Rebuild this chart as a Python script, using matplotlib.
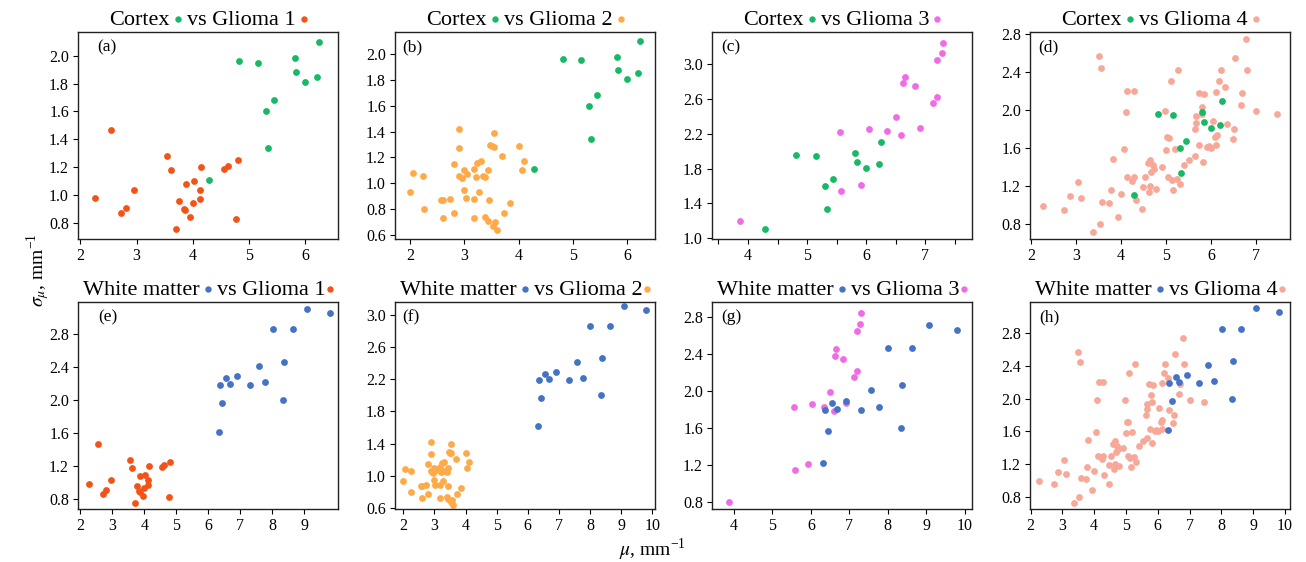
import matplotlib
matplotlib.use('Agg')
import matplotlib.pyplot as plt
from matplotlib.ticker import FixedLocator, MultipleLocator, FormatStrFormatter
from matplotlib.lines import Line2D
from matplotlib import transforms

plt.rcParams['font.family'] = ['Liberation Serif', 'DejaVu Serif']
plt.rcParams['mathtext.fontset'] = 'stix'

# Dados: mu (mm^-1) e sigma_mu (mm^-1) de cada tecido
ctx_mu = [4.29, 4.82, 5.15, 5.30, 5.34, 5.44, 5.81, 5.84, 6.00, 6.21, 6.25]
ctx_sig = [1.11, 1.96, 1.95, 1.60, 1.34, 1.68, 1.98, 1.88, 1.81, 1.85, 2.10]

wm_mu = [6.32, 6.36, 6.44, 6.56, 6.68, 6.91, 7.31, 7.57, 7.76, 8.01, 8.34, 8.37, 8.63, 9.08, 9.80]
wm_sig = [1.62, 2.19, 1.97, 2.27, 2.20, 2.29, 2.19, 2.41, 2.22, 2.86, 2.00, 2.46, 2.86, 3.11, 3.06]

g1_mu = [2.27, 2.55, 2.72, 2.82, 2.96, 3.54, 3.61, 3.70, 3.76, 3.84, 3.87, 3.88, 3.95, 4.00,
         4.03, 4.13, 4.13, 4.14, 4.56, 4.63, 4.80, 4.77]
g1_sig = [0.98, 1.47, 0.87, 0.91, 1.04, 1.28, 1.18, 0.76, 0.96, 0.90, 0.89, 1.08, 0.84, 0.94,
          1.10, 0.97, 1.04, 1.20, 1.19, 1.21, 1.25, 0.83]

g2_mu = [2.00, 2.05, 2.23, 2.26, 2.57, 2.60, 2.60, 2.74, 2.80, 2.80, 2.90, 2.90, 2.90, 2.95,
         3.00, 3.00, 3.03, 3.04, 3.17, 3.17, 3.17, 3.21, 3.24, 3.27, 3.31, 3.34, 3.39, 3.39,
         3.43, 3.44, 3.45, 3.47, 3.51, 3.52, 3.54, 3.54, 3.56, 3.60, 3.70, 3.73, 3.84, 4.00,
         4.06, 4.11]
g2_sig = [0.93, 1.08, 1.06, 0.80, 0.87, 0.87, 0.73, 0.88, 1.15, 0.77, 1.42, 1.27, 1.06, 1.04,
          1.10, 0.95, 0.89, 1.07, 0.88, 1.11, 0.73, 1.05, 1.16, 0.93, 1.17, 1.06, 1.05, 0.74,
          0.71, 1.10, 0.87, 1.30, 1.29, 0.67, 1.39, 1.28, 0.70, 0.64, 1.21, 0.77, 0.85, 1.29,
          1.10, 1.17]

g3_mu = [3.86, 5.55, 5.58, 5.92, 6.04, 6.35, 6.50, 6.59, 6.62, 6.65, 6.83, 6.91, 7.13, 7.19,
         7.20, 7.28, 7.30]
g3_sig = [1.20, 2.22, 1.54, 1.61, 2.26, 2.23, 2.39, 2.18, 2.78, 2.85, 2.75, 2.27, 2.55, 2.62,
          3.05, 3.13, 3.24]

g4_mu = [2.25, 2.73, 2.85, 3.05, 3.10, 3.38, 3.52, 3.50, 3.55, 3.58,
         3.74, 3.78, 3.82, 3.94, 3.99, 4.06, 4.10, 4.14, 4.12, 4.24,
         4.29, 4.29, 4.32, 4.46, 4.48, 4.53, 4.59, 4.64, 4.65, 4.63,
         4.67, 4.72, 4.74, 4.77, 4.92, 4.98, 5.00, 5.03, 5.07, 5.05,
         5.11, 5.13, 5.15, 5.19, 5.24, 5.27, 5.31, 5.41, 5.52, 5.65,
         5.74, 5.83, 5.64, 5.67, 5.66, 5.73, 5.84, 5.80, 5.81, 5.91,
         5.95, 6.00, 6.05, 6.12, 6.09, 6.13, 6.12, 6.19, 6.22, 6.31,
         6.35, 6.49, 6.52, 6.53, 6.66, 6.70, 6.79, 6.81, 7.00, 7.46]
g4_sig = [0.99, 0.95, 1.10, 1.25, 1.08, 0.72, 0.80, 2.57, 2.45, 1.03,
          1.02, 1.16, 1.49, 0.88, 1.12, 1.59, 1.98, 2.20, 1.30, 1.26,
          1.30, 2.20, 1.06, 0.96, 1.19, 1.30, 1.45, 1.48, 1.20, 1.14,
          1.35, 1.42, 1.38, 1.17, 1.40, 1.99, 1.58, 1.72, 1.71, 1.30,
          2.31, 1.27, 1.16, 1.59, 1.28, 2.42, 1.22, 1.42, 1.48, 1.52,
          1.63, 1.46, 1.80, 1.87, 1.94, 2.18, 2.17, 2.04, 1.96, 1.61,
          1.62, 1.60, 1.89, 1.63, 1.72, 1.74, 2.19, 2.31, 2.42, 2.25,
          1.86, 1.70, 1.80, 2.55, 2.06, 2.18, 2.75, 2.43, 1.99, 1.96]

# Cores
cor_ctx = '#17b866'
cor_wm = '#4472c4'
cor_glioma = ['#f25418', '#ffaa47', '#f06ce6', '#f7a898']

gliomas = [(g1_mu, g1_sig), (g2_mu, g2_sig), (g3_mu, g3_sig), (g4_mu, g4_sig)]

# Eixos de cada painel: (xlim, ylim, xticks, yticks, deslocamento do rotulo)
limites = [
    ((1.96, 6.58), (0.685, 2.17), [2, 3, 4, 5, 6], [0.8, 1.0, 1.2, 1.4, 1.6, 1.8, 2.0], 19),
    ((1.72, 6.52), (0.57, 2.17), [2, 3, 4, 5, 6], [0.6, 0.8, 1.0, 1.2, 1.4, 1.6, 1.8, 2.0], 7),
    ((3.39, 7.79), (0.99, 3.37), [4, 5, 6, 7], [1.0, 1.4, 1.8, 2.2, 2.6, 3.0], 9),
    ((1.97, 7.76), (0.645, 2.825), [2, 3, 4, 5, 6, 7], [0.8, 1.2, 1.6, 2.0, 2.4, 2.8], 8),
    ((1.93, 10.05), (0.683, 3.19), [2, 3, 4, 5, 6, 7, 8, 9], [0.8, 1.2, 1.6, 2.0, 2.4, 2.8], 20),
    ((1.73, 10.09), (0.588, 3.16), [2, 3, 4, 5, 6, 7, 8, 9, 10], [0.6, 1.0, 1.4, 1.8, 2.2, 2.6, 3.0], 7),
    ((3.43, 10.19), (0.72, 2.963), [4, 5, 6, 7, 8, 9, 10], [0.8, 1.2, 1.6, 2.0, 2.4, 2.8], 9),
    ((1.98, 10.16), (0.648, 3.186), [2, 3, 4, 5, 6, 7, 8, 9, 10], [0.8, 1.2, 1.6, 2.0, 2.4, 2.8], 9),
]
letras = ['(a)', '(b)', '(c)', '(d)', '(e)', '(f)', '(g)', '(h)']
# o painel (g) tem a escala de sigma deslocada
desloc_g = 0.4

fig = plt.figure(figsize=(13.06, 5.62), dpi=100)
W, H = 1306, 562
esquerdas = [78, 395, 712, 1030]
topos = [32, 302]
larg, alt = 260, 207

eixos = []
for i in range(8):
    lin, col = divmod(i, 4)
    ax = fig.add_axes([esquerdas[col] / W, 1 - (topos[lin] + alt) / H, larg / W, alt / H])
    eixos.append(ax)

renderer = fig.canvas.get_renderer()


def largura(s, fs):
    t = fig.text(0, 0, s, fontsize=fs)
    w = t.get_window_extent(renderer=renderer).width
    t.remove()
    return w


def bolinha(x, y, cor):
    fig.add_artist(Line2D([x / W], [y / H], marker='o', ms=4.6, color=cor, mew=0,
                          linestyle='none', transform=fig.transFigure))


def titulo_colorido(ax, tecido, cor_tecido, nome_glioma, cor_gl, gap_fim, fs=16):
    # texto, bolinha, texto, bolinha (posicoes em pixels)
    t2 = 'vs ' + nome_glioma
    w1, w2 = largura(tecido, fs), largura(t2, fs)
    total = w1 + 8.5 + 9 + w2 + gap_fim + 3
    bb = ax.get_window_extent(renderer=renderer)
    x = (bb.x0 + bb.x1) / 2 - total / 2
    y = bb.y1 + 7
    fig.text(x / W, y / H, tecido, fontsize=fs, ha='left', va='baseline')
    x += w1 + 8.5
    bolinha(x, y + 6.5, cor_tecido)
    x += 9
    fig.text(x / W, y / H, t2, fontsize=fs, ha='left', va='baseline')
    x += w2 + gap_fim
    bolinha(x, y + 6.5, cor_gl)


for i, ax in enumerate(eixos):
    lin, col = divmod(i, 4)
    gl_mu, gl_sig = gliomas[col]
    if lin == 0:
        ref_mu, ref_sig, cor_ref, nome = ctx_mu, ctx_sig, cor_ctx, 'Cortex'
    else:
        ref_mu, ref_sig, cor_ref, nome = wm_mu, wm_sig, cor_wm, 'White matter'
    dy = desloc_g if i == 6 else 0.0

    ax.scatter(gl_mu, [v - dy for v in gl_sig], s=24, color=cor_glioma[col], linewidths=0, zorder=2)
    ax.scatter(ref_mu, [v - dy for v in ref_sig], s=24, color=cor_ref, linewidths=0, zorder=3)

    xl, yl, xt, yt, dx_letra = limites[i]
    ax.set_xlim(xl)
    ax.set_ylim(yl)
    ax.xaxis.set_major_locator(FixedLocator(xt))
    ax.yaxis.set_major_locator(FixedLocator(yt))
    ax.yaxis.set_major_formatter(FormatStrFormatter('%.1f'))
    if i == 2:
        ax.xaxis.set_minor_locator(MultipleLocator(0.5))
        ax.tick_params(axis='x', which='minor', direction='out', length=3.5, width=0.8)
    ax.tick_params(direction='out', length=3.5, width=0.8, labelsize=11.5, pad=3)
    for sp in ax.spines.values():
        sp.set_linewidth(1.0)
        sp.set_color('#222222')

    tr = transforms.offset_copy(ax.transAxes, fig=fig, x=dx_letra, y=-7, units='dots')
    ax.text(0, 1, letras[i], transform=tr, ha='left', va='top', fontsize=12.5)

    titulo_colorido(ax, nome, cor_ref, 'Glioma %d' % (col + 1), cor_glioma[col],
                    7.5 if lin == 0 else 5)

# Rotulos dos eixos
fig.text(0.029, 0.52, r'$\sigma_\mu$, mm$^{\mathregular{-1}}$', rotation=90,
         ha='center', va='center', fontsize=14)
fig.text(0.5, 0.022, r'$\mu$, mm$^{\mathregular{-1}}$', ha='center', va='center', fontsize=14)

fig.savefig('out.png', dpi=100)
